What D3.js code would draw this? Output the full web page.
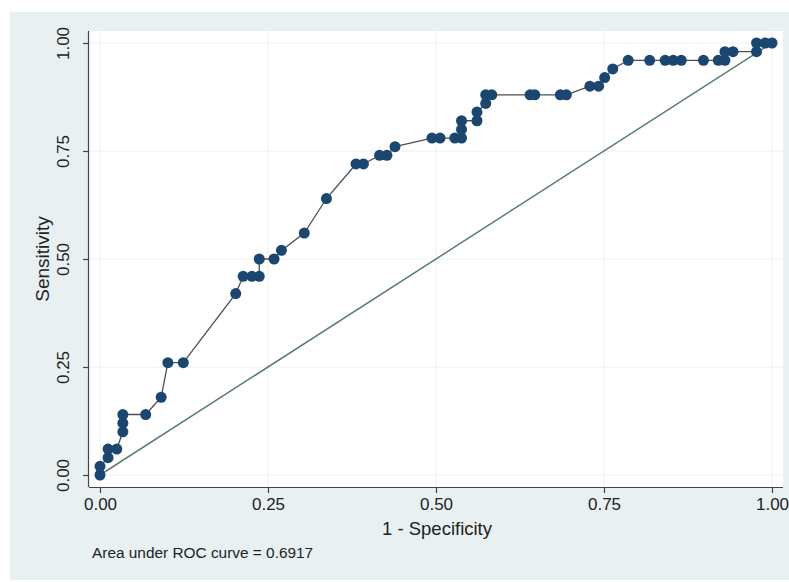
<!DOCTYPE html>
<html>
<head>
<meta charset="utf-8">
<script src="https://cdn.jsdelivr.net/npm/d3@7"></script>
<style>
  body { margin: 0; background: #fff; }
  text { font-family: "Liberation Sans", Arial, sans-serif; fill: #222; }
</style>
</head>
<body>
<div id="roc"></div>
<script>
// ROC points (1 - specificity, sensitivity)
var fpr = [0, 0, 0.012, 0.012, 0.025, 0.034, 0.034, 0.034, 0.068, 0.091,
    0.101, 0.124, 0.202, 0.213, 0.226, 0.237, 0.237, 0.259, 0.270, 0.304,
    0.337, 0.381, 0.392, 0.416, 0.427, 0.439, 0.494, 0.506, 0.528, 0.538,
    0.538, 0.538, 0.561, 0.561, 0.574, 0.574, 0.583, 0.640, 0.647, 0.685,
    0.694, 0.729, 0.742, 0.751, 0.763, 0.786, 0.818, 0.841, 0.853, 0.865,
    0.898, 0.920, 0.930, 0.930, 0.942, 0.977, 0.977, 0.990, 1.0];
var sens = [0, 0.02, 0.04, 0.06, 0.06, 0.10, 0.12, 0.14, 0.14, 0.18,
    0.26, 0.26, 0.42, 0.46, 0.46, 0.46, 0.50, 0.50, 0.52, 0.56,
    0.64, 0.72, 0.72, 0.74, 0.74, 0.76, 0.78, 0.78, 0.78, 0.78,
    0.80, 0.82, 0.82, 0.84, 0.86, 0.88, 0.88, 0.88, 0.88, 0.88,
    0.88, 0.90, 0.90, 0.92, 0.94, 0.96, 0.96, 0.96, 0.96, 0.96,
    0.96, 0.96, 0.96, 0.98, 0.98, 0.98, 1.0, 1.0, 1.0];
var tickVals = [0, 0.25, 0.5, 0.75, 1];
var tickLabels = ["0.00", "0.25", "0.50", "0.75", "1.00"];
var aucText = "Area under ROC curve = 0.6917";

var width = 789, height = 582;

var svg = d3.select("#roc").append("svg")
    .attr("width", width)
    .attr("height", height);

// outer graph region (Stata-like bluish gray)
svg.append("rect")
    .attr("x", 10).attr("y", 12)
    .attr("width", width - 10).attr("height", 568)
    .attr("fill", "#e9f0f2");

// plot region
var plot = {left: 89, top: 31, right: 783, bottom: 487};
svg.append("rect")
    .attr("x", plot.left).attr("y", plot.top)
    .attr("width", plot.right - plot.left).attr("height", plot.bottom - plot.top)
    .attr("fill", "#fff");

var x = d3.scaleLinear().domain([0, 1]).range([100, 772]);
var y = d3.scaleLinear().domain([0, 1]).range([475, 43]);

// gridlines
var grid = svg.append("g").attr("class", "grid");
grid.selectAll("line.gx")
    .data(tickVals)
    .enter().append("line")
    .attr("class", "gx")
    .attr("x1", function (d) { return x(d); })
    .attr("x2", function (d) { return x(d); })
    .attr("y1", plot.top).attr("y2", plot.bottom)
    .attr("stroke", "#eceff0").attr("stroke-width", 1);
grid.selectAll("line.gy")
    .data(tickVals)
    .enter().append("line")
    .attr("class", "gy")
    .attr("y1", function (d) { return y(d); })
    .attr("y2", function (d) { return y(d); })
    .attr("x1", plot.left).attr("x2", plot.right)
    .attr("stroke", "#eceff0").attr("stroke-width", 1);

// axes
var xAxis = d3.axisBottom(x)
    .tickValues(tickVals)
    .tickFormat(function (d, i) { return tickLabels[i]; })
    .tickSize(6).tickPadding(5);
var gx = svg.append("g")
    .attr("transform", "translate(0," + plot.bottom + ")")
    .call(xAxis);
gx.select(".domain").attr("d", "M" + plot.left + ",0.5H" + plot.right);

var yAxis = d3.axisLeft(y)
    .tickValues(tickVals)
    .tickFormat(function (d, i) { return tickLabels[i]; })
    .tickSize(6);
var gy = svg.append("g")
    .attr("transform", "translate(" + plot.left + ",0)")
    .call(yAxis);
gy.select(".domain").attr("d", "M-0.5," + plot.top + "V" + plot.bottom);

svg.selectAll(".domain, .tick line").attr("stroke", "#444").attr("stroke-width", 1.2);
gx.selectAll(".tick text")
    .style("font-size", "17px")
    .attr("fill", "#222");
// y tick labels are rotated, centred on their tick
gy.selectAll(".tick text")
    .style("font-size", "17px")
    .attr("fill", "#222")
    .attr("text-anchor", "middle")
    .attr("dy", "0.35em")
    .attr("x", 0)
    .attr("transform", "translate(-26,0) rotate(-90)");

// axis titles
svg.append("text")
    .attr("x", 437).attr("y", 535)
    .attr("text-anchor", "middle")
    .style("font-size", "18.5px")
    .text("1 - Specificity");
svg.append("text")
    .attr("transform", "translate(49,259) rotate(-90)")
    .attr("text-anchor", "middle")
    .style("font-size", "19px")
    .text("Sensitivity");

// reference diagonal
svg.append("line")
    .attr("x1", x(0)).attr("y1", y(0))
    .attr("x2", x(1)).attr("y2", y(1))
    .attr("stroke", "#5b7d6f").attr("stroke-width", 1.5);

// ROC curve
var pts = fpr.map(function (d, i) { return {fpr: d, sens: sens[i]}; });
var line = d3.line()
    .x(function (d) { return x(d.fpr); })
    .y(function (d) { return y(d.sens); });
svg.append("path")
    .datum(pts)
    .attr("d", line)
    .attr("fill", "none")
    .attr("stroke", "#4a4f55")
    .attr("stroke-width", 1.3);

svg.append("g").selectAll("circle")
    .data(pts)
    .enter().append("circle")
    .attr("cx", function (d) { return x(d.fpr); })
    .attr("cy", function (d) { return y(d.sens); })
    .attr("r", 5.5)
    .attr("fill", "#1a4670");

// note
svg.append("text")
    .attr("x", 92).attr("y", 558)
    .style("font-size", "15.4px")
    .text(aucText);
</script>
</body>
</html>
